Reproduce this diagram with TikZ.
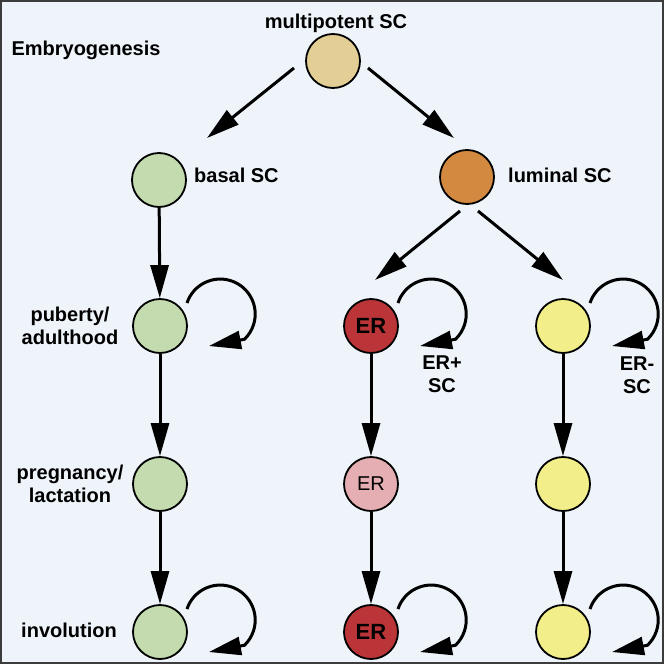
\documentclass[tikz,border=0pt]{standalone}
\usepackage{fontspec}
\setmainfont{Liberation Sans}
\usetikzlibrary{arrows.meta,calc}
\definecolor{bgc}{RGB}{238,244,250}
\definecolor{framec}{RGB}{60,60,60}
\definecolor{mpc}{RGB}{227,207,150}
\definecolor{grc}{RGB}{195,219,174}
\definecolor{orc}{RGB}{211,138,64}
\definecolor{erc}{RGB}{187,53,56}
\definecolor{pkc}{RGB}{229,174,179}
\definecolor{ylc}{RGB}{242,238,138}
\tikzset{
  cell/.style={circle,draw=black,line width=1.8pt,minimum size=54pt,inner sep=0pt},
  lbl/.style={font=\bfseries\fontsize{20}{23}\selectfont,align=center,inner sep=0pt},
  arr/.style={line width=3pt,-{Triangle[length=33pt,width=18pt]}},
  loopline/.style={line width=3pt,-{Triangle[length=32pt,width=18pt]}}
}
\newcommand\selfloop[1]{\draw[loopline] ($(#1)+(27,23)$) arc[start angle=161.6,end angle=-46,radius=35pt] -- ($(#1)+(49,-20)$);}
\begin{document}
\begin{tikzpicture}[x=1pt,y=1pt]
\useasboundingbox (0,0) rectangle (664,-664);
\draw[fill=bgc,draw=framec,line width=2pt] (1,-1) rectangle (663,-663);

% cells
\node[cell,fill=mpc] (mp) at (333,-61) {};
\node[cell,fill=grc] (bs) at (159,-180) {};
\node[cell,fill=orc] (ls) at (467,-177) {};
\node[cell,fill=grc] (g1) at (160,-326) {};
\node[cell,fill=erc,font=\bfseries\fontsize{22}{24}\selectfont] (e1) at (371,-326) {ER};
\node[cell,fill=ylc] (y1) at (563,-326) {};
\node[cell,fill=grc] (g2) at (160,-484) {};
\node[cell,fill=pkc,font=\fontsize{20}{22}\selectfont] (e2) at (371,-484) {ER};
\node[cell,fill=ylc] (y2) at (563,-484) {};
\node[cell,fill=grc] (g3) at (160,-632) {};
\node[cell,fill=erc,font=\bfseries\fontsize{22}{24}\selectfont] (e3) at (371,-632) {ER};
\node[cell,fill=ylc] (y3) at (563,-632) {};

% labels
\node[lbl] (tmp) at (336,-23) {multipotent SC};
\node[lbl] (temb) at (86,-50) {Embryogenesis};
\node[lbl,anchor=west] (tbs) at (194,-175) {basal SC};
\node[lbl,anchor=west] (tls) at (508,-175) {luminal SC};
\node[lbl] (tpub) at (70,-326) {puberty/\\adulthood};
\node[lbl] (tpreg) at (70,-484) {pregnancy/\\lactation};
\node[lbl] (tinv) at (69,-630) {involution};
\node[lbl] (terp) at (442,-374) {ER+\\SC};
\node[lbl] (term) at (637,-375) {ER-\\SC};

% diagonal arrows
\coordinate (a1s) at ($(mp)+(-39,-7)$);
\coordinate (a1e) at ($(bs)+(48,42)$);
\coordinate (a2s) at ($(mp)+(35,-7)$);
\coordinate (a2e) at ($(ls)+(-13,39)$);
\coordinate (a3s) at ($(ls)+(-7,-34)$);
\coordinate (a3e) at ($(e1)+(4,46)$);
\coordinate (a4s) at ($(ls)+(11,-34)$);
\coordinate (a4e) at ($(y1)+(0,46)$);
\draw[arr] (a1s) -- (a1e);
\draw[arr] (a2s) -- (a2e);
\draw[arr] (a3s) -- (a3e);
\draw[arr] (a4s) -- (a4e);

% vertical arrows
\draw[arr] (bs) -- (g1);
\draw[arr] (g1) -- (g2);
\draw[arr] (g2) -- (g3);
\draw[arr] (e1) -- (e2);
\draw[arr] (e2) -- (e3);
\draw[arr] (y1) -- (y2);
\draw[arr] (y2) -- (y3);

% self-renewal loops
\selfloop{g1}
\selfloop{e1}
\selfloop{y1}
\selfloop{g3}
\selfloop{e3}
\selfloop{y3}
\end{tikzpicture}
\end{document}
